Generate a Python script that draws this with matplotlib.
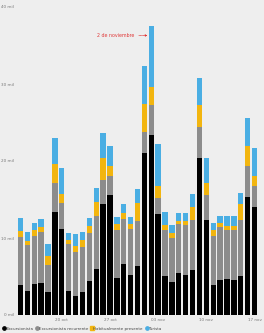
import matplotlib
matplotlib.use("Agg")
import matplotlib.pyplot as plt
from matplotlib.lines import Line2D
import numpy as np

dates = ["14 oct", "15 oct", "16 oct", "17 oct", "18 oct", "19 oct", "20 oct",
         "21 oct", "22 oct", "23 oct", "24 oct", "25 oct", "26 oct", "27 oct",
         "28 oct", "29 oct", "30 oct", "31 oct", "01 nov", "02 nov", "03 nov",
         "04 nov", "05 nov", "06 nov", "07 nov", "08 nov", "09 nov", "10 nov",
         "11 nov", "12 nov", "13 nov", "14 nov", "15 nov", "16 nov", "17 nov"]

excursionista = [3.9, 3.16, 3.98, 4.11, 2.94, 13.4, 11.17, 3.1, 2.5, 2.94, 4.4, 5.97,
                 14.37, 15.58, 4.76, 6.58, 5.19, 6.4, 21.0, 23.4, 13.1, 5.1, 4.3, 5.5,
                 5.2, 5.84, 20.35, 12.4, 3.9, 4.55, 4.68, 4.55, 5.1, 15.3, 14.07]
recurrente = [6.2, 5.93, 6.28, 6.71, 3.55, 3.8, 3.33, 6.1, 5.7, 5.93, 6.3, 6.89,
              3.13, 2.47, 6.28, 5.89, 5.94, 5.8, 2.8, 3.9, 2.1, 5.94, 5.74, 6.3,
              6.5, 6.56, 4.1, 3.2, 6.4, 6.84, 6.36, 6.49, 7.2, 4.0, 2.68]
habitual = [0.85, 0.56, 0.78, 0.57, 1.22, 2.4, 1.2, 0.6, 0.8, 0.87, 0.86, 1.84,
            2.85, 1.3, 0.76, 0.73, 0.67, 2.4, 3.6, 2.3, 1.55, 0.66, 0.56, 0.45,
            0.5, 1.67, 2.85, 1.6, 0.74, 0.51, 0.56, 0.56, 2.1, 2.65, 1.35]
turista = [1.6, 1.17, 0.86, 1.03, 1.51, 3.4, 3.35, 0.9, 1.5, 1.0, 0.99, 1.75,
           3.35, 2.65, 0.97, 1.2, 0.97, 1.7, 5.0, 7.9, 5.45, 1.7, 1.1, 1.05,
           1.1, 1.63, 3.45, 3.15, 0.86, 0.96, 1.26, 1.26, 1.5, 3.65, 3.6]

series_names = ["Excursionista", "Excursionista recurrente", "Habitualmente presente", "Turista"]
colors = ["#000000", "#8c8c8c", "#f2b50f", "#4aaee3"]
xtick_labels = ["20 oct", "27 oct", "03 nov", "10 nov", "17 nov"]
yticks = [0, 10, 20, 30, 40]
ytick_labels = ["0 mil", "10 mil", "20 mil", "30 mil", "40 mil"]
annot_date = "02 nov"
annot_text = "2 de noviembre"

bg = "#eeeeee"
W, H = 264, 333
fig = plt.figure(figsize=(W / 100, H / 100), dpi=100, facecolor=bg)
ax = fig.add_axes([17 / W, (H - 315) / H, (258 - 17) / W, (315 - 7) / H])
ax.set_facecolor(bg)

x = np.arange(len(dates))
bottom = np.zeros(len(dates))
for vals, col in zip([excursionista, recurrente, habitual, turista], colors):
    ax.bar(x, vals, bottom=bottom, color=col, width=0.78, linewidth=0)
    bottom += np.array(vals)

ax.set_xlim(-0.5, len(dates) - 0.5)
ax.set_ylim(0, 40)
for s in ax.spines.values():
    s.set_visible(False)

ax.set_yticks(yticks)
ax.set_yticklabels(ytick_labels, fontsize=3.0, color="#777777")
ax.set_xticks([dates.index(d) for d in xtick_labels])
ax.set_xticklabels(xtick_labels, fontsize=3.0, color="#777777")
ax.tick_params(length=0, pad=2)

# annotation
xi = dates.index(annot_date)
top = bottom[xi]
ax.annotate(annot_text, xy=(xi - 0.55, top - 1.2), xytext=(xi - 2.4, top - 1.2),
            fontsize=3.4, color="#e03a3a", ha="right", va="center",
            arrowprops=dict(arrowstyle="-|>", color="#e03a3a", lw=0.5,
                            linestyle=(0, (1, 1)), mutation_scale=3,
                            shrinkA=1, shrinkB=0))

handles = [
    Line2D([], [], marker="o", color=colors[0], linestyle="none", markersize=2.4),
    Line2D([], [], marker="o", color=colors[1], linestyle="none", markersize=2.4),
    Line2D([], [], marker="s", color=colors[2], linestyle="none", markersize=2.2),
    Line2D([], [], marker="o", color=colors[3], linestyle="none", markersize=2.4),
]
fig.legend(handles, series_names, loc="lower left", bbox_to_anchor=(0.0, -0.002),
           ncol=4, fontsize=2.9, frameon=False, handletextpad=0.05,
           columnspacing=0.5, handlelength=0.8, borderpad=0.2,
           labelcolor="#444444")

fig.savefig("out.png", dpi=100, facecolor=bg)
